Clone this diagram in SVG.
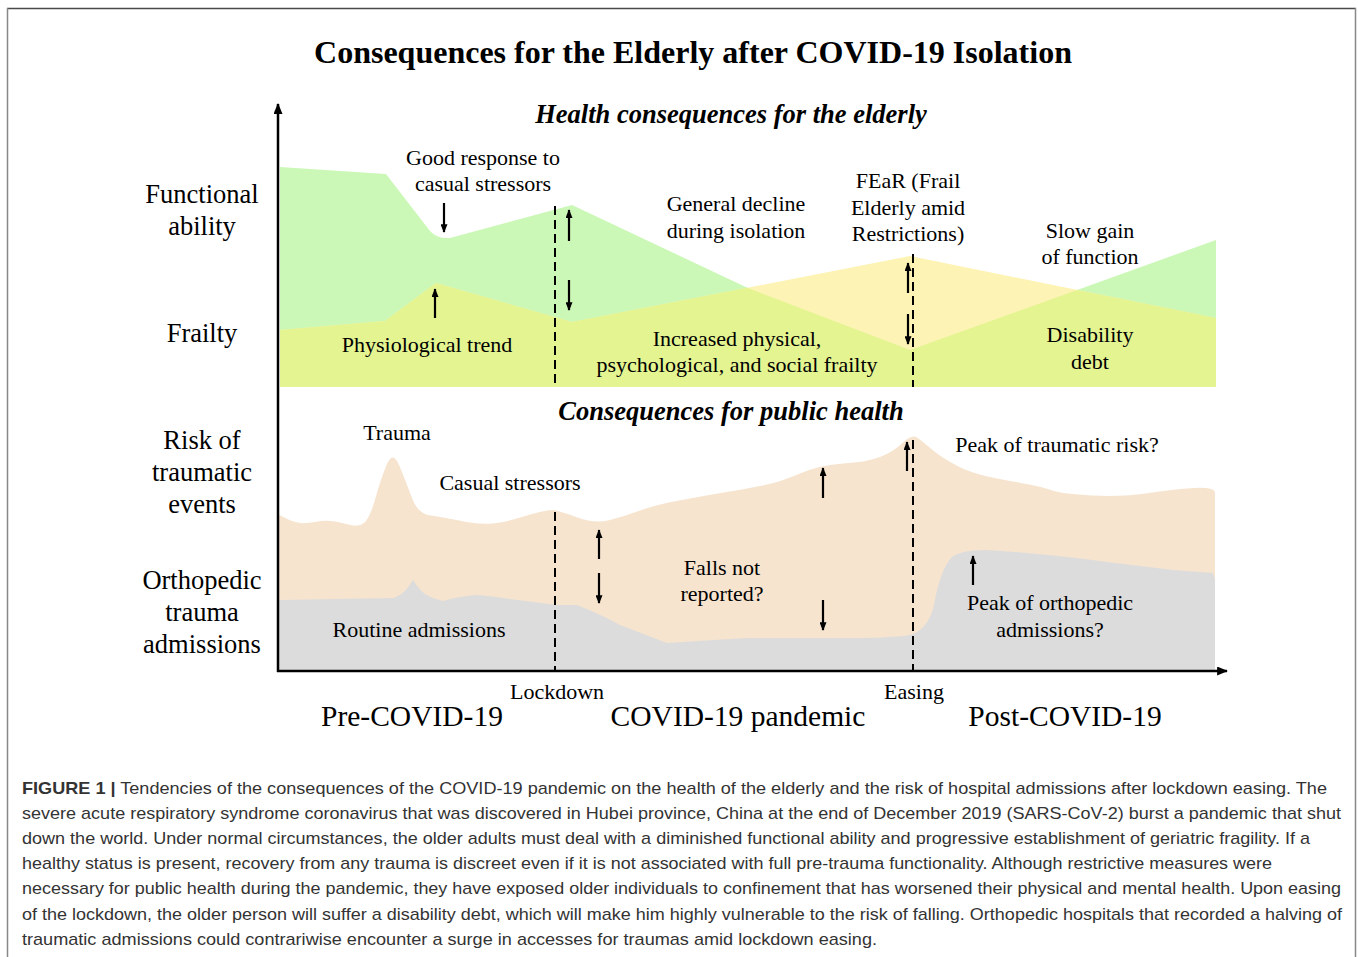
<svg xmlns="http://www.w3.org/2000/svg" width="1358" height="957" viewBox="0 0 1358 957">
<defs>
<style>
.t{font-family:"Liberation Serif","Times New Roman",serif;fill:#000;text-anchor:middle}
.s22{font-size:22px}
.s26{font-size:26.5px}
.s29{font-size:29.5px}
.bi{font-size:26.5px;font-weight:bold;font-style:italic}
.ti{font-size:32px;font-weight:bold}
.cap{font-family:"Liberation Sans",Arial,sans-serif;font-size:17px;fill:#333}
.dash{stroke:#000;stroke-width:2;stroke-dasharray:9 5;fill:none}
.arr{stroke:#000;stroke-width:2.2;fill:none;marker-end:url(#ah)}
.ax{stroke:#000;stroke-width:2.5;fill:none;marker-end:url(#axh)}
</style>
<marker id="ah" viewBox="0 0 10 8" refX="9" refY="4" markerWidth="9" markerHeight="7" markerUnits="userSpaceOnUse" orient="auto"><path d="M0,0 L10,4 L0,8 Z" fill="#000"/></marker>
<marker id="axh" viewBox="0 0 12 10" refX="11" refY="5" markerWidth="12" markerHeight="9" markerUnits="userSpaceOnUse" orient="auto"><path d="M0,0 L12,5 L0,10 Z" fill="#000"/></marker>
</defs>
<rect width="1358" height="957" fill="#fff"/>
<g id="frame" fill="none">
<path d="M7,8.5 H1356" stroke="#4a4a4a" stroke-width="1.6"/>
<path d="M7.5,8 V957" stroke="#888" stroke-width="1.5"/>
<path d="M1355.5,8 V957" stroke="#888" stroke-width="1.5"/>
</g>
<g id="elderly-areas">
<path id="functional" d="M280,167 L386,174 L430,231 Q437,239 450,238 L572,205 L750,289 L910,350 L1216,240 L1216,387 L280,387 Z" fill="#cbf8b7"/>
<path id="frailty" d="M280,330 L385,321 L436,283 L572,322 L910,256 L1216,318 L1216,387 L280,387 Z" fill="#fdf3b4"/>
<path id="overlap" d="M280,330 L385,321 L436,283 L572,322 L747.4,287.8 L910,350 L1077.2,289.9 L1216,318 L1216,387 L280,387 Z" fill="#e4f491"/>
</g>
<g id="public-areas">
<path id="trauma-risk" d="M279,515 L289.5,520 Q300,525 315,522 Q330,519 344,523.5 Q358,528 364,523 Q370,518 375.5,498 Q381,478 387,464 Q393,450 399.5,466 Q406,482 412,498 Q418,514 430.5,515.5 Q443,517 466.5,522 Q490,527 518.5,518 Q547,509 553.5,510 Q560,511 577.5,517.5 Q595,524 610,520 Q625,516 640,510.5 Q655,505 679,500.5 Q703,496 726.5,492 Q750,488 765,485 Q780,482 800,473.5 Q820,465 843.5,463.5 Q867,462 880,457 Q893,452 902.5,443 Q912,434 917,437.5 Q922,441 932,449.5 Q942,458 958.5,466.5 Q975,475 1007.5,480.5 Q1040,486 1051,490 Q1062,494 1092.5,495.5 Q1123,497 1149,493 Q1175,489 1194,488 Q1213,487 1215,492 L1215,670 L279,670 Z" fill="#f6e4cf"/>
<path id="ortho" d="M279,600 L337,599 L394,598 Q405,594 413,580 Q421,594 433,598 L443,601 Q460,596 477,595 Q490,596 503,598 L557,605 L577,605 Q600,614 620,625 L667,643 Q710,640 750,638 L867,638 Q900,637 910,635 Q928,630 934,605 Q940,570 952,557 Q962,550 985,550 Q1040,553 1107,562 L1173,570 L1213,573 L1215,580 L1215,670 L279,670 Z" fill="#dcdcdc"/>
</g>
<g id="connectors">
<line class="ax" x1="278" y1="672" x2="278" y2="104"/>
<line class="ax" x1="277" y1="671" x2="1227" y2="671"/>
<line class="dash" x1="555" y1="206" x2="555" y2="387"/>
<line class="dash" x1="555" y1="512" x2="555" y2="671"/>
<line class="dash" x1="913" y1="254" x2="913" y2="387"/>
<line class="dash" x1="913" y1="440" x2="913" y2="671"/>
<line class="arr" x1="444" y1="203" x2="444" y2="232"/>
<line class="arr" x1="435" y1="318" x2="435" y2="289"/>
<line class="arr" x1="569" y1="241" x2="569" y2="210"/>
<line class="arr" x1="569" y1="280" x2="569" y2="310"/>
<line class="arr" x1="908" y1="293" x2="908" y2="263"/>
<line class="arr" x1="908" y1="314" x2="908" y2="344"/>
<line class="arr" x1="599" y1="559" x2="599" y2="530"/>
<line class="arr" x1="599" y1="573" x2="599" y2="603"/>
<line class="arr" x1="823" y1="498" x2="823" y2="468"/>
<line class="arr" x1="823" y1="600" x2="823" y2="630"/>
<line class="arr" x1="907" y1="471" x2="907" y2="442"/>
<line class="arr" x1="973" y1="585" x2="973" y2="556"/>
</g>
<g id="titles">
<text class="t ti" x="693" y="63">Consequences for the Elderly after COVID-19 Isolation</text>
<text class="t bi" x="731" y="123">Health consequences for the elderly</text>
<text class="t bi" x="731" y="420">Consequences for public health</text>
</g>
<g id="axis-labels">
<text class="t s26" x="202" y="203">Functional</text>
<text class="t s26" x="202" y="235">ability</text>
<text class="t s26" x="202" y="342">Frailty</text>
<text class="t s26" x="202" y="449">Risk of</text>
<text class="t s26" x="202" y="481">traumatic</text>
<text class="t s26" x="202" y="513">events</text>
<text class="t s26" x="202" y="589">Orthopedic</text>
<text class="t s26" x="202" y="621">trauma</text>
<text class="t s26" x="202" y="653">admissions</text>
</g>
<g id="chart-labels">
<text class="t s22" x="483" y="165">Good response to</text>
<text class="t s22" x="483" y="191">casual stressors</text>
<text class="t s22" x="736" y="211">General decline</text>
<text class="t s22" x="736" y="238">during isolation</text>
<text class="t s22" x="908" y="188">FEaR (Frail</text>
<text class="t s22" x="908" y="215">Elderly amid</text>
<text class="t s22" x="908" y="241">Restrictions)</text>
<text class="t s22" x="1090" y="238">Slow gain</text>
<text class="t s22" x="1090" y="264">of function</text>
<text class="t s22" x="427" y="352">Physiological trend</text>
<text class="t s22" x="737" y="346">Increased physical,</text>
<text class="t s22" x="737" y="372">psychological, and social frailty</text>
<text class="t s22" x="1090" y="342">Disability</text>
<text class="t s22" x="1090" y="369">debt</text>
<text class="t s22" x="397" y="440">Trauma</text>
<text class="t s22" x="510" y="490">Casual stressors</text>
<text class="t s22" x="1057" y="452">Peak of traumatic risk?</text>
<text class="t s22" x="722" y="575">Falls not</text>
<text class="t s22" x="722" y="601">reported?</text>
<text class="t s22" x="1050" y="610">Peak of orthopedic</text>
<text class="t s22" x="1050" y="637">admissions?</text>
<text class="t s22" x="419" y="637">Routine admissions</text>
<text class="t s22" x="557" y="699">Lockdown</text>
<text class="t s22" x="914" y="699">Easing</text>
<text class="t s29" x="412" y="726">Pre-COVID-19</text>
<text class="t s29" x="738" y="726">COVID-19 pandemic</text>
<text class="t s29" x="1065" y="726">Post-COVID-19</text>
</g>
<g id="caption">
<text class="cap" x="22" y="794" textLength="1305" lengthAdjust="spacingAndGlyphs"><tspan font-weight="bold">FIGURE 1 |</tspan> Tendencies of the consequences of the COVID-19 pandemic on the health of the elderly and the risk of hospital admissions after lockdown easing. The</text>
<text class="cap" x="22" y="819" textLength="1319" lengthAdjust="spacingAndGlyphs">severe acute respiratory syndrome coronavirus that was discovered in Hubei province, China at the end of December 2019 (SARS-CoV-2) burst a pandemic that shut</text>
<text class="cap" x="22" y="844" textLength="1288" lengthAdjust="spacingAndGlyphs">down the world. Under normal circumstances, the older adults must deal with a diminished functional ability and progressive establishment of geriatric fragility. If a</text>
<text class="cap" x="22" y="869" textLength="1250" lengthAdjust="spacingAndGlyphs">healthy status is present, recovery from any trauma is discreet even if it is not associated with full pre-trauma functionality. Although restrictive measures were</text>
<text class="cap" x="22" y="894" textLength="1319" lengthAdjust="spacingAndGlyphs">necessary for public health during the pandemic, they have exposed older individuals to confinement that has worsened their physical and mental health. Upon easing</text>
<text class="cap" x="22" y="920" textLength="1320" lengthAdjust="spacingAndGlyphs">of the lockdown, the older person will suffer a disability debt, which will make him highly vulnerable to the risk of falling. Orthopedic hospitals that recorded a halving of</text>
<text class="cap" x="22" y="945" textLength="855" lengthAdjust="spacingAndGlyphs">traumatic admissions could contrariwise encounter a surge in accesses for traumas amid lockdown easing.</text>
</g>
</svg>
